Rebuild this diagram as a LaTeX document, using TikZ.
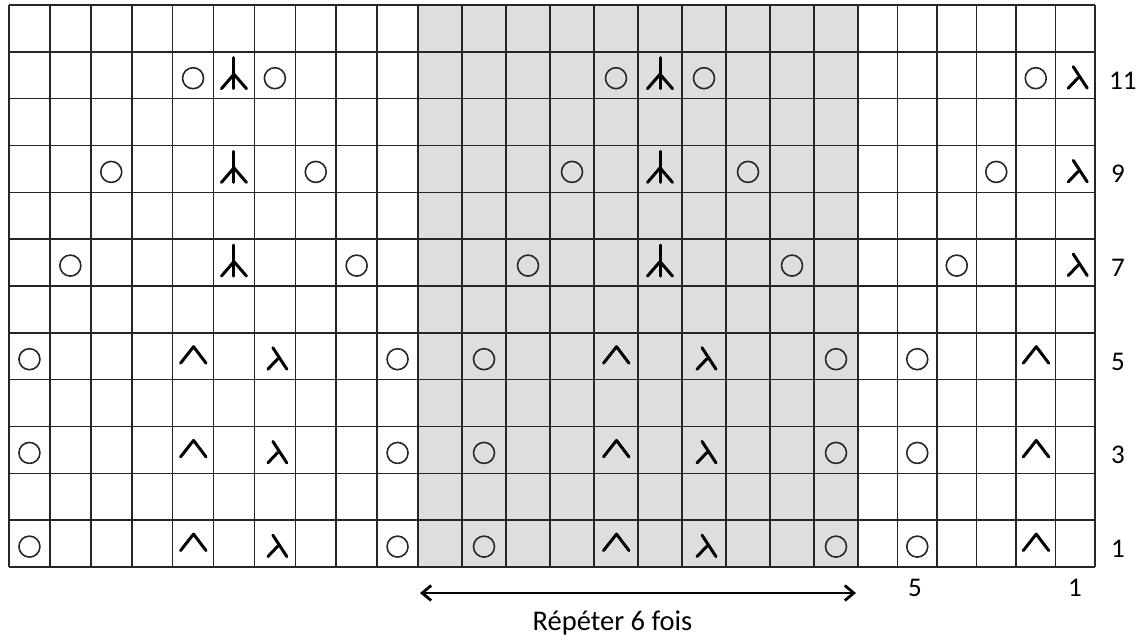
\documentclass[tikz,border=0pt]{standalone}
\usepackage{fontspec}
\setmainfont{Carlito}
\usetikzlibrary{arrows.meta}
\definecolor{cellgray}{RGB}{222,222,222}
\begin{document}
\begin{tikzpicture}[x=1pt,y=-1pt,
  gridline/.style={draw=black!85, line width=1.6pt},
  sym/.style={draw=black, line width=3pt, line cap=round, line join=round},
  ring/.style={draw=black!85, line width=1.6pt},
  lab/.style={font=\fontsize{27}{31}\selectfont, inner sep=0pt, text=black},
  yo/.pic={\draw[ring] (0,3) circle[radius=10.5pt];},
  dec/.pic={\draw[sym] (0,-17.5) -- (0,13.5); \draw[sym] (-12.5,13.5) -- (0,-1) -- (12.5,13.5);},
  kk/.pic={\draw[sym] (-12.5,7) -- (0.5,-9.5) -- (13,7);},
  lam/.pic={\draw[sym] (-2,-8.5) -- (12,13); \draw[sym] (3,2.5) -- (-7,13);}
]
\useasboundingbox (0,0) rectangle (1143,638);
% shaded repeat
\fill[cellgray] (418,5) rectangle (858,567);
% grid
\foreach \i in {0,...,10} \draw[gridline] ({9+40.9*\i},5) -- ({9+40.9*\i},567);
\foreach \i in {1,...,10} \draw[gridline] ({418+44*\i},5) -- ({418+44*\i},567);
\foreach \i in {1,...,6} \draw[gridline] ({858+39.5*\i},5) -- ({858+39.5*\i},567);
\foreach \j in {0,...,12} \draw[gridline] (9,{5+46.83*\j}) -- (1095,{5+46.83*\j});
% row 11
\foreach \c in {5,7} \pic at ({9+40.9*(\c-0.5)},75.2) {yo};
\pic at ({9+40.9*5.5},75.2) {dec};
\foreach \c in {5,7} \pic at ({418+44*(\c-0.5)},75.2) {yo};
\pic at ({418+44*5.5},75.2) {dec};
\pic at ({858+39.5*4.5},75.2) {yo};
\pic at ({858+39.5*5.5},75.2) {lam};
% row 9
\foreach \c in {3,8} \pic at ({9+40.9*(\c-0.5)},168.9) {yo};
\pic at ({9+40.9*5.5},168.9) {dec};
\foreach \c in {4,8} \pic at ({418+44*(\c-0.5)},168.9) {yo};
\pic at ({418+44*5.5},168.9) {dec};
\pic at ({858+39.5*3.5},168.9) {yo};
\pic at ({858+39.5*5.5},168.9) {lam};
% row 7
\foreach \c in {2,9} \pic at ({9+40.9*(\c-0.5)},262.6) {yo};
\pic at ({9+40.9*5.5},262.6) {dec};
\foreach \c in {3,9} \pic at ({418+44*(\c-0.5)},262.6) {yo};
\pic at ({418+44*5.5},262.6) {dec};
\pic at ({858+39.5*2.5},262.6) {yo};
\pic at ({858+39.5*5.5},262.6) {lam};
% rows 5, 3, 1
\foreach \y in {356.2,449.9,543.6} {
  \foreach \c in {1,10} \pic at ({9+40.9*(\c-0.5)},\y) {yo};
  \pic at ({9+40.9*4.5},\y) {kk};
  \pic at ({9+40.9*6.5},\y) {lam};
  \foreach \c in {2,10} \pic at ({418+44*(\c-0.5)},\y) {yo};
  \pic at ({418+44*4.5},\y) {kk};
  \pic at ({418+44*6.5},\y) {lam};
  \pic at ({858+39.5*1.5},\y) {yo};
  \pic at ({858+39.5*4.5},\y) {kk};
}
% row numbers
\node[lab, anchor=base west] (n11) at (1109,89.2) {11};
\node[lab, anchor=base west] (n9) at (1111,182.9) {9};
\node[lab, anchor=base west] (n7) at (1111,276.6) {7};
\node[lab, anchor=base west] (n5) at (1111,370.2) {5};
\node[lab, anchor=base west] (n3) at (1111,463.9) {3};
\node[lab, anchor=base west] (n1) at (1111,557.6) {1};
% column numbers
\node[lab, anchor=base] (c5) at (915,596) {5};
\node[lab, anchor=base] (c1) at (1075,596) {1};
% repeat arrow
\coordinate (aL) at (420,593);
\coordinate (aR) at (856,593);
\draw[line width=2.8pt, {Straight Barb[length=9pt,width=15pt]}-{Straight Barb[length=9pt,width=15pt]}] (aL) -- (aR);
\node[lab, font=\fontsize{28.5}{32}\selectfont, anchor=base] (rep) at (612.5,630) {Répéter 6 fois};
\end{tikzpicture}
\end{document}
